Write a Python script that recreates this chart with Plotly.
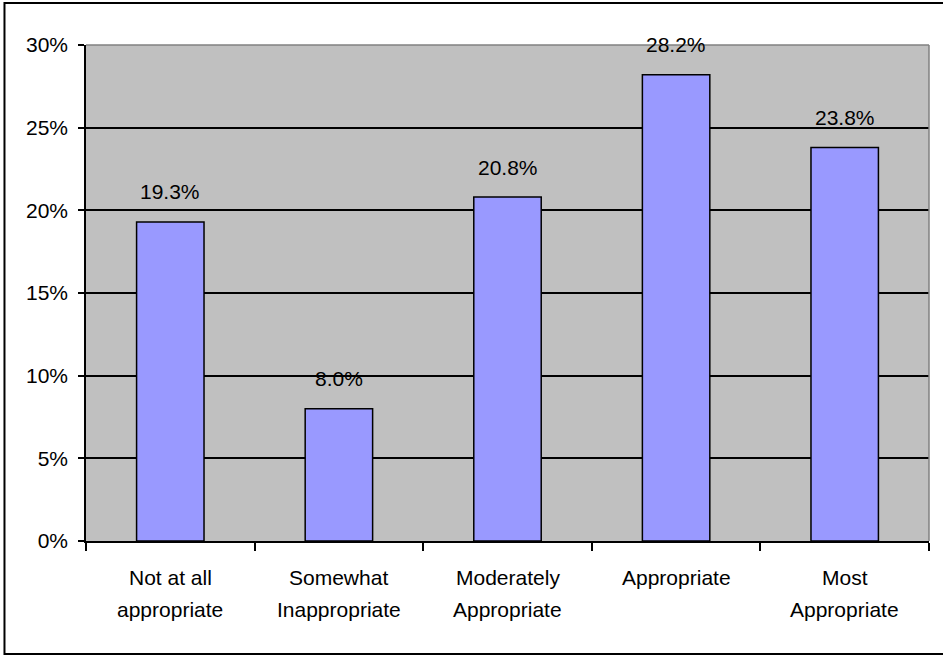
import plotly.graph_objects as go

categories = ["Not at all<br>appropriate", "Somewhat<br>Inappropriate", "Moderately<br>Appropriate",
              "Appropriate", "Most<br>Appropriate"]
shares = [19.3, 8.0, 20.8, 28.2, 23.8]
y_ticks = [0, 5, 10, 15, 20, 25, 30]
y_tick_labels = [f"{v}%" for v in y_ticks]

FONT = "Liberation Sans, Arial, sans-serif"
SIZE = 21

fig = go.Figure(
    go.Bar(
        x=categories,
        y=shares,
        marker=dict(color="#9999FF", line=dict(color="black", width=1.5)),
        width=0.4,
        hoverinfo="x+y",
    )
)

# value labels above each bar
for cat, v in zip(categories, shares):
    fig.add_annotation(
        x=cat, y=v, text=f"{v:.1f}%", showarrow=False,
        yanchor="middle", yshift=30,
        font=dict(family=FONT, size=SIZE, color="black"),
    )

# category labels, one annotation per text line for wider line spacing
for cat in categories:
    for i, line in enumerate(cat.split("<br>")):
        fig.add_annotation(
            x=cat, y=0, yref="y", text=line, showarrow=False,
            yanchor="middle", yshift=-36 - 32 * i,
            font=dict(family=FONT, size=SIZE, color="black"),
        )

# gray frame on the top and right of the plot area
fig.add_shape(type="line", xref="paper", yref="paper", x0=0, x1=1, y0=1, y1=1,
              line=dict(color="#808080", width=1.5))
fig.add_shape(type="line", xref="paper", yref="paper", x0=1, x1=1, y0=0, y1=1,
              line=dict(color="#808080", width=1.5))
# outer chart border
fig.add_shape(type="rect", xref="paper", yref="paper",
              x0=-0.0967, x1=1.05, y0=-0.2278, y1=1.0847,
              line=dict(color="black", width=2))

fig.update_layout(
    width=943, height=656,
    margin=dict(l=86, r=14, t=45, b=115),
    paper_bgcolor="white",
    plot_bgcolor="#C0C0C0",
    showlegend=False,
    font=dict(family=FONT, size=SIZE, color="black"),
    xaxis=dict(
        type="category",
        showline=True, linecolor="black", linewidth=1.5,
        ticks="outside", tickson="boundaries", ticklen=8, tickcolor="black", tickwidth=1.5,
        showgrid=False, showticklabels=False,
    ),
    yaxis=dict(
        range=[0, 30],
        tickvals=y_ticks, ticktext=y_tick_labels,
        showline=True, linecolor="black", linewidth=1.5,
        ticks="outside", ticklen=6, tickcolor="black", tickwidth=1.5,
        ticklabelstandoff=6,
        showgrid=True, gridcolor="black", gridwidth=1.5,
        zeroline=False,
        tickfont=dict(family=FONT, size=SIZE, color="black"),
    ),
)

fig.write_html("out.html")
